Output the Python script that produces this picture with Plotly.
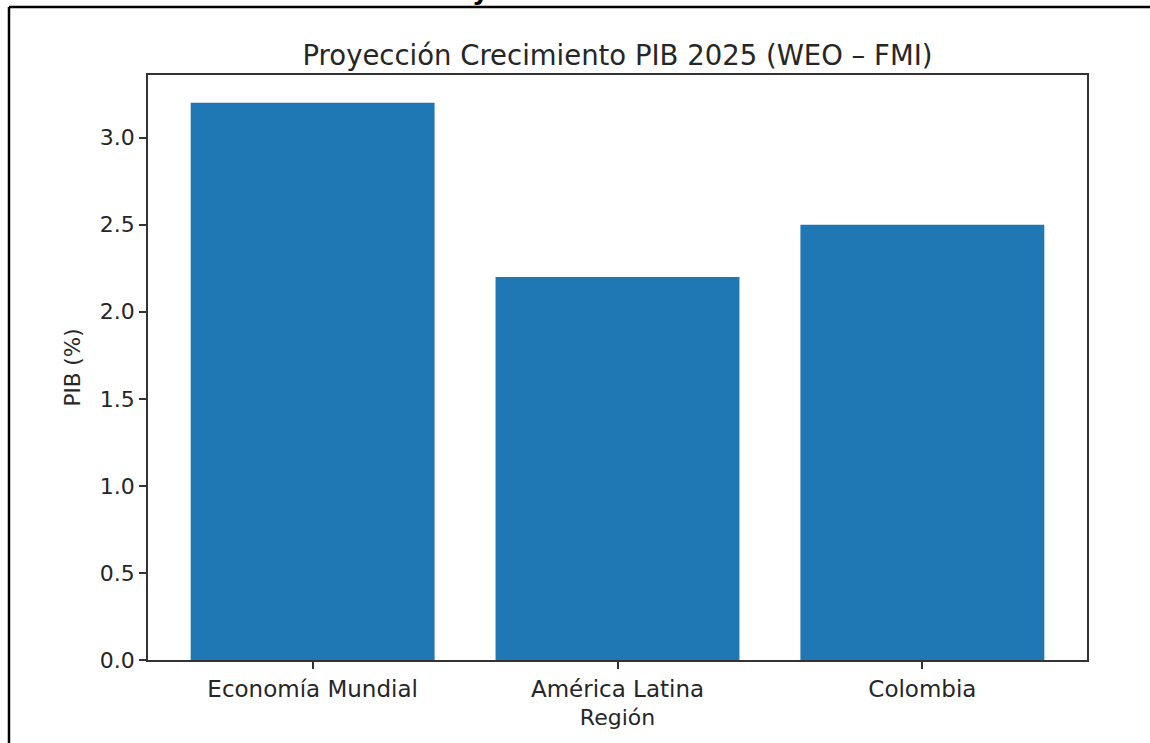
import plotly.graph_objects as go

categories = ["Economía Mundial", "América Latina", "Colombia"]
gdp_growth = [3.2, 2.2, 2.5]
y_ticks = [0.0, 0.5, 1.0, 1.5, 2.0, 2.5, 3.0]
y_tick_labels = ["0.0", "0.5", "1.0", "1.5", "2.0", "2.5", "3.0"]

title_text = "Proyección Crecimiento PIB 2025 (WEO – FMI)"
x_title = "Región"
y_title = "PIB (%)"

W, H = 1150, 743
L, R, T, B = 148, 63, 75, 83
pw, ph = W - L - R, H - T - B

txt = "#262626"
font = "DejaVu Sans"

fig = go.Figure(
    go.Bar(
        x=list(range(len(categories))),
        y=gdp_growth,
        width=0.8,
        marker=dict(color="#1f77b4", line=dict(width=0)),
    )
)

fig.update_layout(
    width=W,
    height=H,
    margin=dict(l=L, r=R, t=T, b=B, autoexpand=False),
    paper_bgcolor="white",
    plot_bgcolor="white",
    showlegend=False,
    font=dict(family=font, size=21, color=txt),
    title=dict(
        text=title_text,
        x=(L + pw / 2) / W,
        xanchor="center",
        y=1 - 55 / H,
        yanchor="middle",
        font=dict(family=font, size=27.5, color=txt),
    ),
)

fig.update_xaxes(
    range=[-0.54, 2.54],
    tickmode="array",
    tickvals=list(range(len(categories))),
    ticktext=categories,
    ticks="outside",
    ticklen=7,
    tickwidth=1.5,
    tickcolor="#333333",
    showline=True,
    linecolor="#333333",
    linewidth=1.8,
    mirror=True,
    showgrid=False,
    zeroline=False,
    tickfont=dict(family=font, size=23, color=txt),
    title=dict(text=x_title, font=dict(family=font, size=22, color=txt), standoff=9),
    automargin=False,
)

fig.update_yaxes(
    range=[0, 3.36],
    tickmode="array",
    tickvals=y_ticks,
    ticktext=y_tick_labels,
    ticks="outside",
    ticklen=7,
    tickwidth=1.5,
    tickcolor="#333333",
    showline=True,
    linecolor="#333333",
    linewidth=1.8,
    mirror=True,
    showgrid=False,
    zeroline=False,
    tickfont=dict(family=font, size=22, color=txt),
    title=dict(text=y_title, font=dict(family=font, size=21.5, color=txt), standoff=13),
    automargin=False,
)

# outer black frame of the screenshot (top and left edges)
fx0 = (9 - L) / pw
fy_top = (H - B - 7) / ph
fig.add_shape(type="line", xref="paper", yref="paper",
              x0=fx0, x1=(W + 5 - L) / pw, y0=fy_top, y1=fy_top,
              line=dict(color="black", width=2.5))
fig.add_shape(type="line", xref="paper", yref="paper",
              x0=fx0, x1=fx0, y0=fy_top, y1=-(B + 5) / ph,
              line=dict(color="black", width=2.5))

# clipped glyph at the very top of the screenshot
fig.add_annotation(text="<b>y</b>", xref="paper", yref="paper",
                   x=(480 - L) / pw, y=(H - B - 7) / ph,
                   xanchor="center", yanchor="bottom", showarrow=False,
                   font=dict(family=font, size=26, color="black"))

fig.write_html("out.html", config={"displayModeBar": False},
               post_script="document.body.style.margin='0';")
